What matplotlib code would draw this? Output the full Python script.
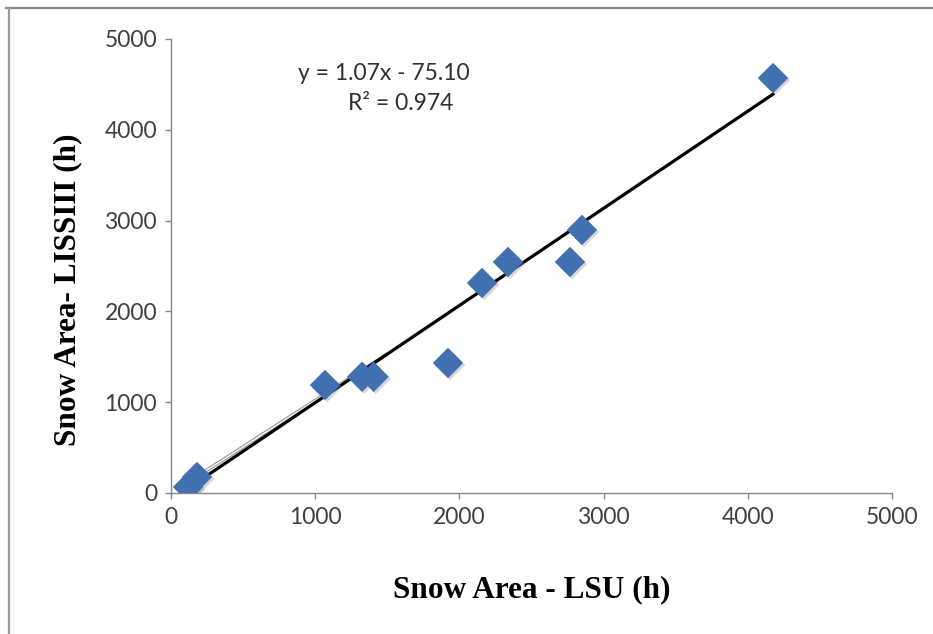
import numpy as np
import matplotlib.pyplot as plt
import matplotlib.patheffects as pe
from matplotlib.lines import Line2D

# Snow area points (LSU vs LISS-III)
lsu = [118, 180, 1068, 1325, 1405, 1921, 2157, 2337, 2767, 2850, 4175]
liss = [66, 176, 1189, 1280, 1280, 1432, 2313, 2544, 2544, 2897, 4570]

slope = 1.07
intercept = -75.10
r2 = 0.974

# faint second line visible under the trendline at the low end
faint_x = [118, 1500]
faint_y = [118, 1530]

x_ticks = [0, 1000, 2000, 3000, 4000, 5000]
y_ticks = [0, 1000, 2000, 3000, 4000, 5000]

fig = plt.figure(figsize=(9.33, 6.34), dpi=100)
ax = fig.add_axes([0.1833, 0.2224, 0.7727, 0.7161])

gray = '#868686'
fx = np.array(faint_x)
ax.plot(fx, faint_y, color='#9a9a9a', lw=2.6, solid_capstyle='butt', zorder=2)
ax.plot(fx, faint_y, color='white', lw=0.9, solid_capstyle='butt', zorder=2.1)

tx = np.array([min(lsu), max(lsu)])
ax.plot(tx, slope * tx + intercept, color='black', lw=2.3, zorder=3)

ax.scatter(lsu, liss, marker='D', s=240, color='#4170b0', edgecolors='none', zorder=4,
           path_effects=[pe.SimplePatchShadow(offset=(1.5, -1.5), shadow_rgbFace='#909090', alpha=0.35),
                         pe.Normal()])

ax.set_xlim(0, 5000)
ax.set_ylim(0, 5000)
ax.set_xticks(x_ticks)
ax.set_yticks(y_ticks)
for s in ['top', 'right']:
    ax.spines[s].set_visible(False)
for s in ['left', 'bottom']:
    ax.spines[s].set_color(gray)
    ax.spines[s].set_linewidth(1.0)
ax.tick_params(direction='out', length=4, width=1.0, color=gray, labelcolor='#404040',
               labelsize=16.5, pad=6)
for lab in ax.get_xticklabels() + ax.get_yticklabels():
    lab.set_family('Lato')

ax.set_xlabel('Snow Area - LSU (h)', family='Liberation Serif', fontweight='bold',
              fontsize=22.5, va='center')
ax.set_ylabel('Snow Area- LISSIII (h)', family='Liberation Serif', fontweight='bold',
              fontsize=22.5, va='center')
ax.xaxis.set_label_coords(0.50, -0.213)
ax.yaxis.set_label_coords(-0.143, 0.447)

ax.text(0.295, 0.925, f'y = {slope:.2f}x - {abs(intercept):.2f}', transform=ax.transAxes,
        ha='center', va='center', fontsize=16.5, family='Lato', color='#303030')
ax.text(0.318, 0.858, f'R\u00b2 = {r2:.3f}', transform=ax.transAxes,
        ha='center', va='center', fontsize=16.5, family='Lato', color='#303030')

# outer frame (top and left edges only, as cropped)
fig.add_artist(Line2D([0.006, 1.0], [0.987, 0.987], transform=fig.transFigure, color='#8a8a8a', lw=1.6))
fig.add_artist(Line2D([0.0095, 0.0095], [0.0, 0.987], transform=fig.transFigure, color='#9a9a9a', lw=1.6))

fig.savefig('out.png', dpi=100)
